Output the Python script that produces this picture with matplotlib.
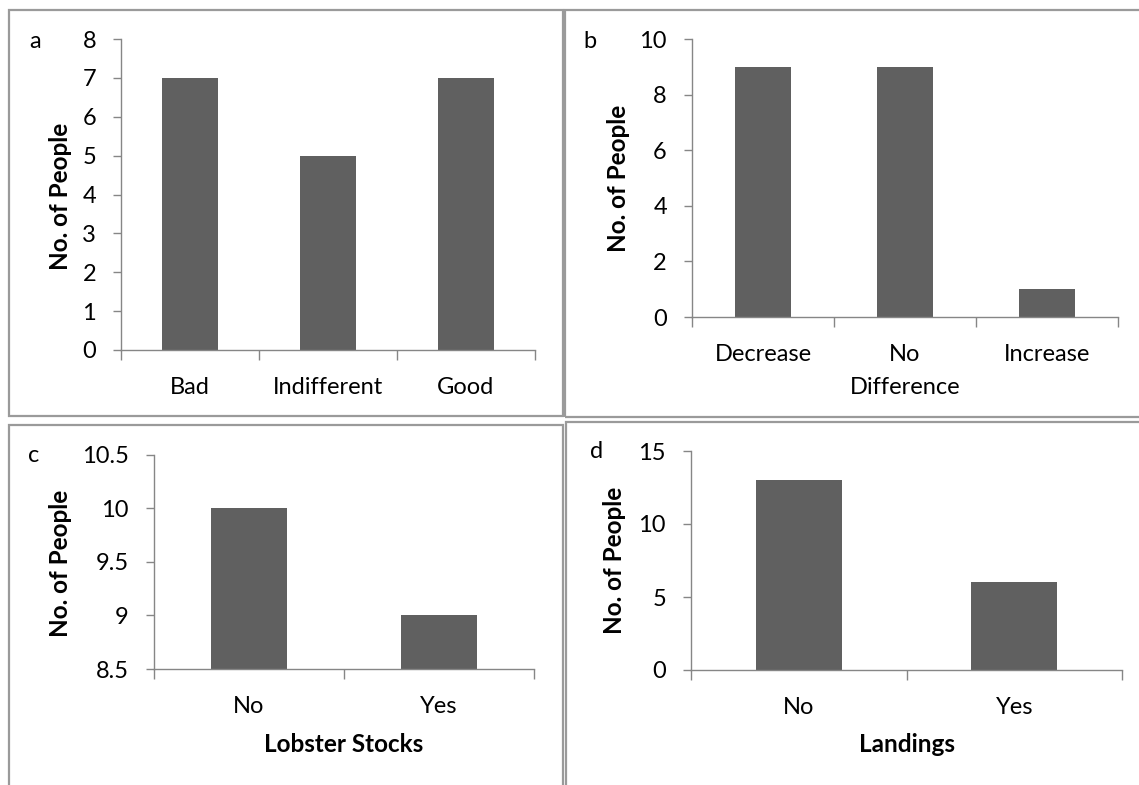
import matplotlib
matplotlib.use("Agg")
import matplotlib.pyplot as plt
from matplotlib.patches import Rectangle
from matplotlib.ticker import FixedLocator

W, H = 1139, 785

# data
cat_a = ["Bad", "Indifferent", "Good"]
val_a = [7, 5, 7]
ticks_a = [0, 1, 2, 3, 4, 5, 6, 7, 8]

cat_b = ["Decrease", "No\nDifference", "Increase"]
val_b = [9, 9, 1]
ticks_b = [0, 2, 4, 6, 8, 10]

cat_c = ["No", "Yes"]
val_c = [10, 9]
ticks_c = [8.5, 9, 9.5, 10, 10.5]
xlabel_c = "Lobster Stocks"

cat_d = ["No", "Yes"]
val_d = [13, 6]
ticks_d = [0, 5, 10, 15]
xlabel_d = "Landings"

BAR = "#606060"
AXC = "#868686"
FRAME = "#9a9a9a"
FS = 17
FSB = 17.5

plt.rcParams["font.family"] = ["Lato", "DejaVu Sans"]

fig = plt.figure(figsize=(W / 100, H / 100), dpi=100)


def fx(x):
    return x / W


def fy(y):
    return 1 - y / H


def frame(x0, y0, x1, y1):
    fig.add_artist(Rectangle((fx(x0), fy(y1)), fx(x1) - fx(x0), fy(y0) - fy(y1),
                             transform=fig.transFigure, fill=False,
                             edgecolor=FRAME, linewidth=1.6, clip_on=False))


def panel(box, cats, vals, ticks, letter, letter_xy, ylab_xy, xlabel=None,
          ls=1.2):
    left, top, right, bottom = box
    ax = fig.add_axes([fx(left), fy(bottom), fx(right) - fx(left), fy(top) - fy(bottom)])
    n = len(cats)
    xs = list(range(n))
    ax.bar(xs, vals, width=0.4, color=BAR, zorder=2)
    ax.set_xlim(-0.5, n - 0.5)
    ax.set_ylim(ticks[0], ticks[-1])
    for s in ["top", "right"]:
        ax.spines[s].set_visible(False)
    for s in ["left", "bottom"]:
        ax.spines[s].set_color(AXC)
        ax.spines[s].set_linewidth(1.0)
    ax.set_yticks(ticks)
    ax.set_yticklabels([f"{t:g}" for t in ticks])
    ax.tick_params(axis="y", length=6, width=1.0, color=AXC, pad=12,
                   labelsize=FS)
    # category boundaries carry the ticks, centres carry the labels
    ax.xaxis.set_major_locator(FixedLocator([i - 0.5 for i in range(n + 1)]))
    ax.xaxis.set_minor_locator(FixedLocator(xs))
    ax.set_xticklabels([], minor=False)
    ax.set_xticklabels(cats, minor=True, linespacing=ls)
    ax.tick_params(axis="x", which="major", length=7, width=1.0, color=AXC)
    ax.tick_params(axis="x", which="minor", length=0, pad=19.5, labelsize=FS)
    fig.text(fx(letter_xy[0]), fy(letter_xy[1]), letter, fontsize=FS,
             ha="center", va="center")
    fig.text(fx(ylab_xy[0]), fy(ylab_xy[1]), "No. of People", fontsize=FSB,
             fontweight="bold", rotation=90, ha="center", va="center")
    if xlabel:
        fig.text(fx((left + right) / 2), fy(745), xlabel, fontsize=FSB,
                 fontweight="bold", ha="center", va="center")
    return ax


frame(9, 10, 563, 416)
frame(565, 10, 1145, 417)
frame(9, 425, 563, 800)
frame(566, 422, 1145, 800)

panel((121, 39, 535, 350), cat_a, val_a, ticks_a, "a", (35, 41), (60, 196))
panel((692, 39, 1118, 317), cat_b, val_b, ticks_b, "b", (590, 42), (618, 178),
      ls=1.7)
panel((154, 455, 534, 669), cat_c, val_c, ticks_c, "c", (34, 455), (60, 563),
      xlabel=xlabel_c)
panel((691, 451, 1122, 670), cat_d, val_d, ticks_d, "d", (597, 451), (615, 560),
      xlabel=xlabel_d)

fig.savefig("out.png", dpi=100)
